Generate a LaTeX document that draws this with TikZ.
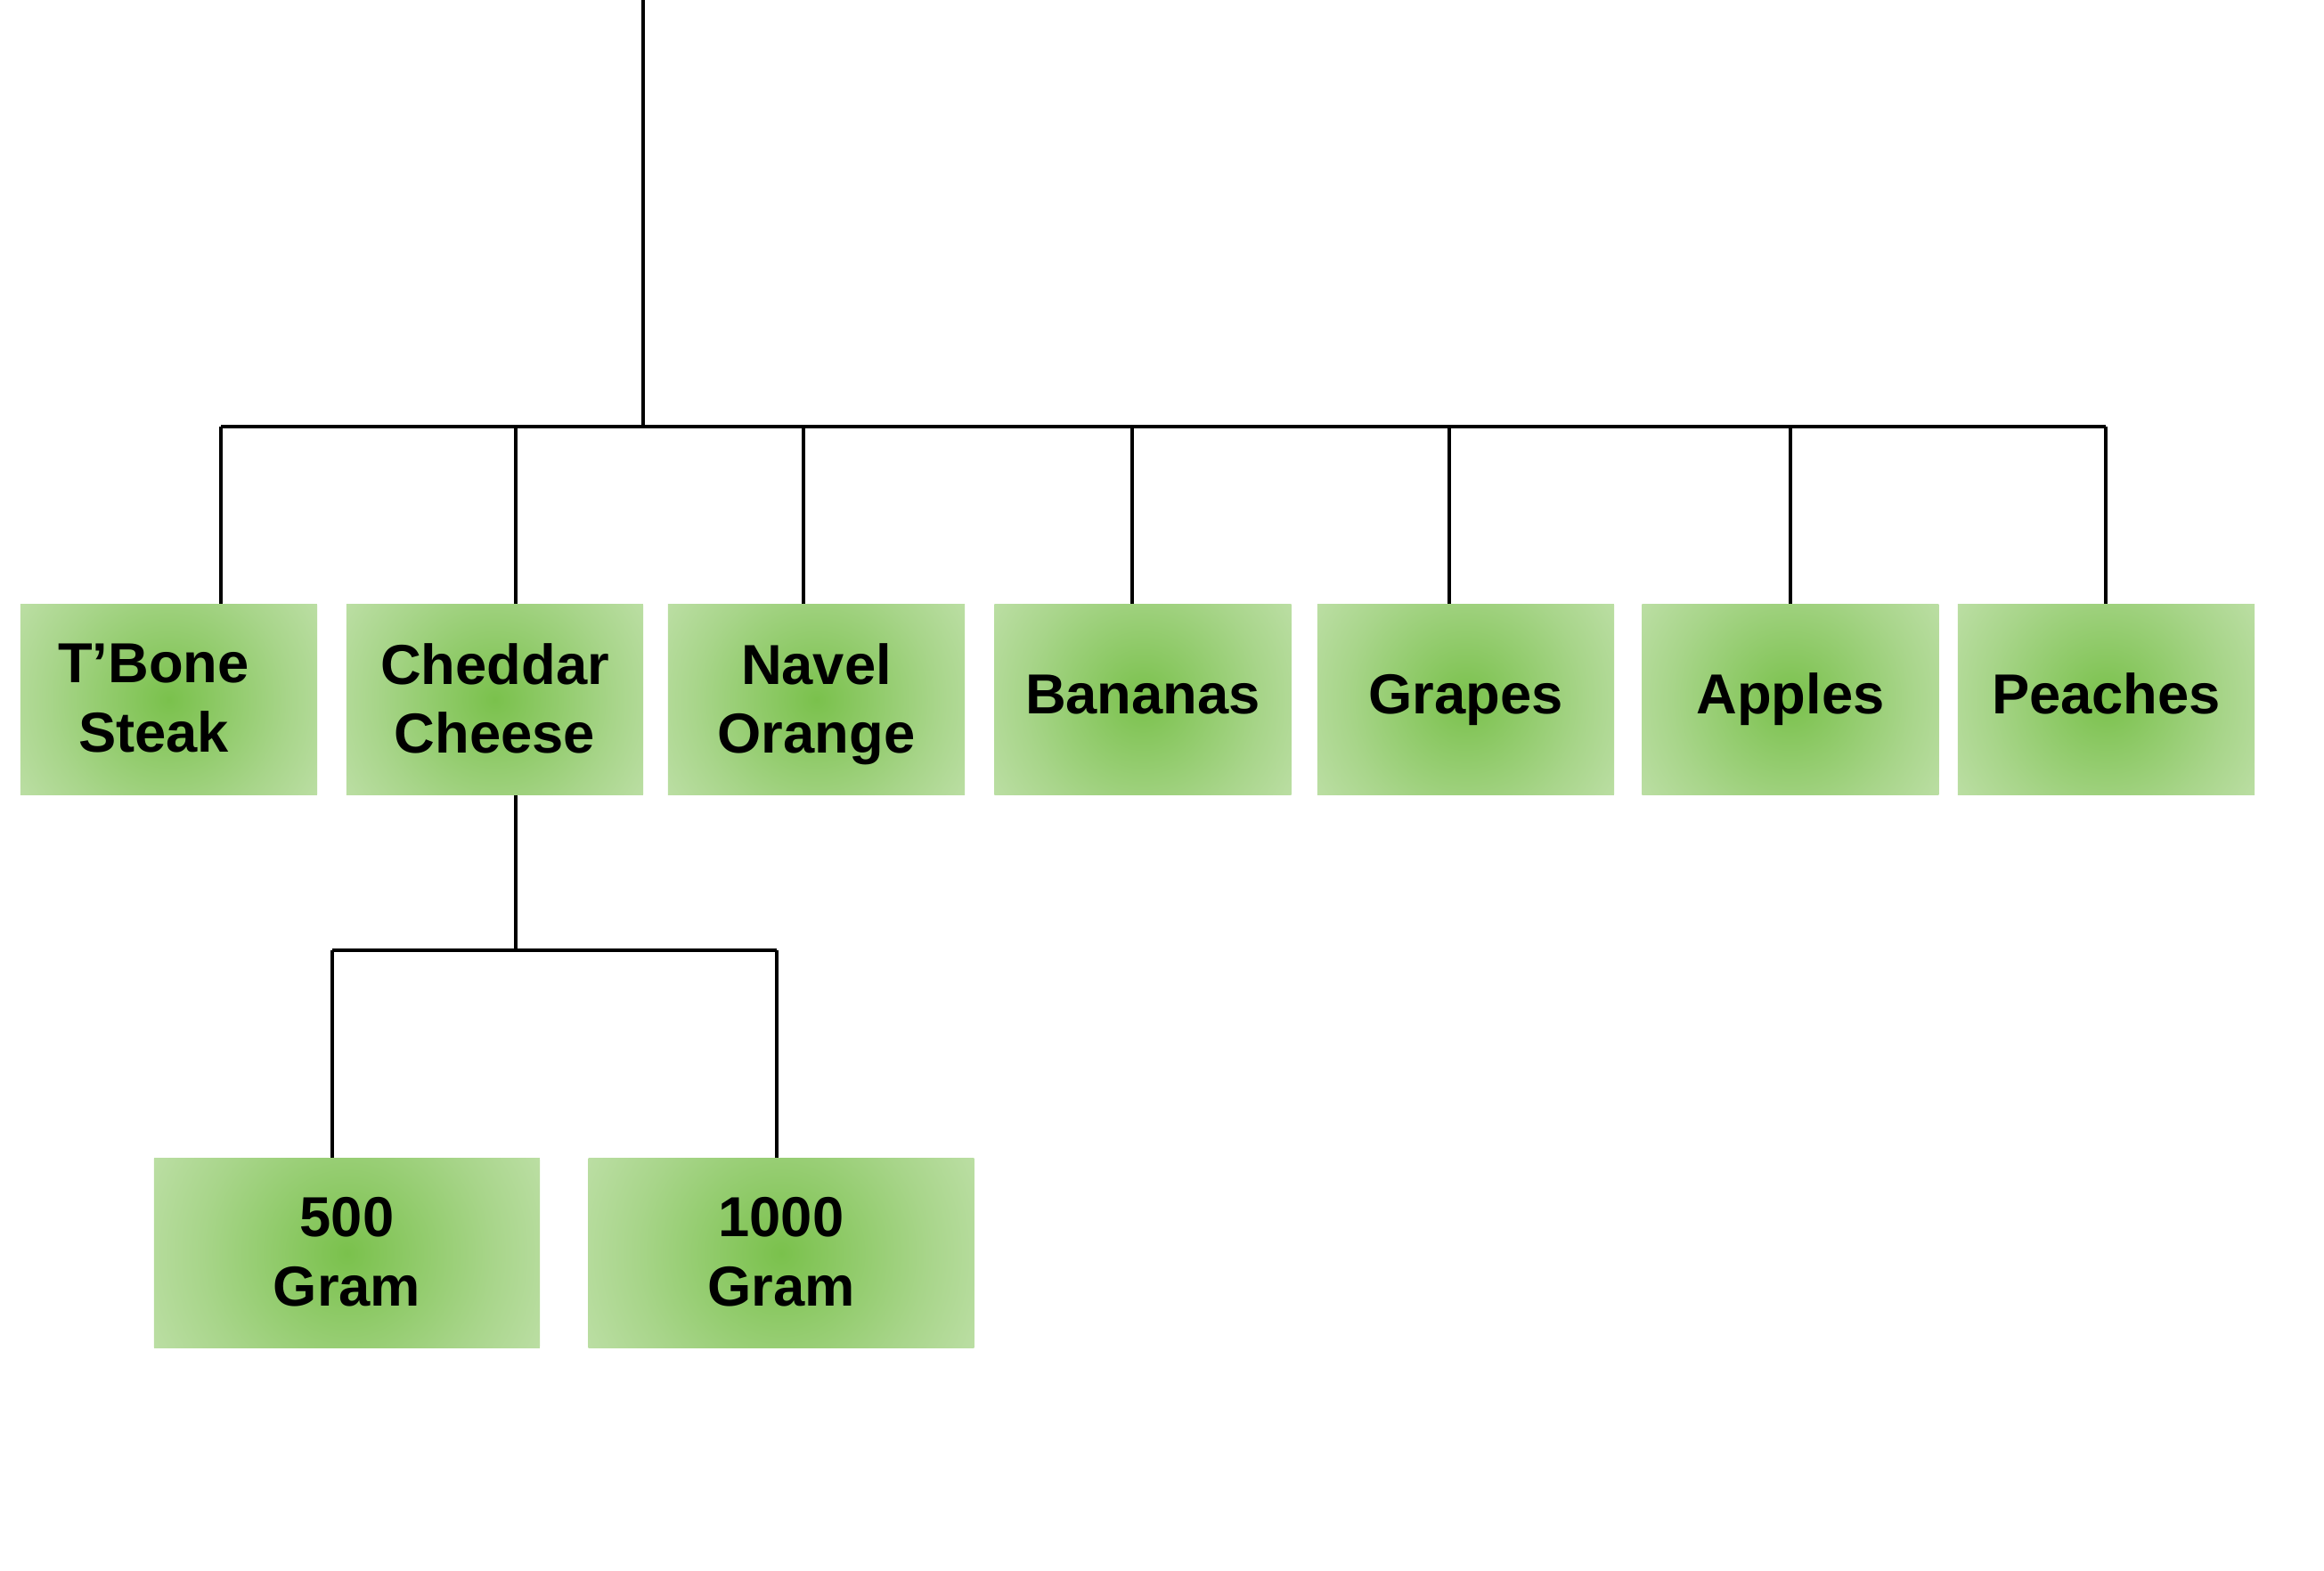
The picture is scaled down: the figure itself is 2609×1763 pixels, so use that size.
\documentclass[tikz,border=0pt]{standalone}
\usepackage{fontspec}
\setmainfont{Liberation Sans}
\definecolor{gctr}{RGB}{122,193,76}
\definecolor{gmid}{RGB}{168,213,138}
\definecolor{gedge}{RGB}{220,238,207}
\pgfdeclareradialshading{boxglow}{\pgfpoint{0bp}{0bp}}{color(0bp)=(gctr); color(17bp)=(gmid); color(39bp)=(gedge); color(50bp)=(gedge)}
\begin{document}
\begin{tikzpicture}[x=0.01cm,y=-0.01cm,
  itembox/.style={rectangle, inner sep=0pt, minimum width=3.33cm, minimum height=2.13cm,
    align=center, font=\fontsize{18}{22}\selectfont\bfseries,
    path picture={\shade[shading=boxglow] (path picture bounding box.center) circle[radius=1.98cm];}},
  subbox/.style={itembox, minimum width=4.33cm, minimum height=2.12cm,
    path picture={\shade[shading=boxglow] (path picture bounding box.center) circle[radius=2.41cm];}},
  oneline/.style={text height=13pt, text depth=4pt},
  twoline/.style={text depth=1pt},
  link/.style={draw=black, line width=1.1pt}]
\useasboundingbox (0,0) rectangle (2609,1763);

% first level boxes
\node[itembox,twoline] (tbone)   at (189.5,785.5)  {T’Bone\hspace*{0.34cm}\\Steak\hspace*{0.34cm}};
\node[itembox,twoline] (cheddar) at (555.5,785.5)  {Cheddar\\Cheese};
\node[itembox,twoline] (navel)   at (916.5,785.5)  {Navel\\Orange};
\node[itembox,oneline] (bananas) at (1283,785.5)   {Bananas};
\node[itembox,oneline] (grapes)  at (1645.5,785.5) {Grapes};
\node[itembox,oneline] (apples)  at (2010,785.5)   {Apples};
\node[itembox,oneline] (peaches) at (2364.5,785.5) {Peaches};

% second level boxes
\node[subbox,twoline] (g500)  at (389.5,1407) {500\\Gram};
\node[subbox,twoline] (g1000) at (877,1407)   {1000\\Gram};

% connector points
\coordinate (top) at (722,0);
\coordinate (hub) at (722,479);
\coordinate (b1) at (248,479);
\coordinate (b2) at (579,479);
\coordinate (b3) at (902,479);
\coordinate (b4) at (1271,479);
\coordinate (b5) at (1627,479);
\coordinate (b6) at (2010,479);
\coordinate (b7) at (2364,479);
\coordinate (c0) at (579,1067);
\coordinate (c1) at (373,1067);
\coordinate (c2) at (872,1067);

\draw[link] (top) -- (hub);
\draw[link] (b1) -- (b7);
\draw[link] (b1) -- (b1 |- tbone.north);
\draw[link] (b2) -- (b2 |- cheddar.north);
\draw[link] (b3) -- (b3 |- navel.north);
\draw[link] (b4) -- (b4 |- bananas.north);
\draw[link] (b5) -- (b5 |- grapes.north);
\draw[link] (b6) -- (b6 |- apples.north);
\draw[link] (b7) -- (b7 |- peaches.north);

\draw[link] (c0 |- cheddar.south) -- (c0);
\draw[link] (c1) -- (c2);
\draw[link] (c1) -- (c1 |- g500.north);
\draw[link] (c2) -- (c2 |- g1000.north);
\end{tikzpicture}
\end{document}
